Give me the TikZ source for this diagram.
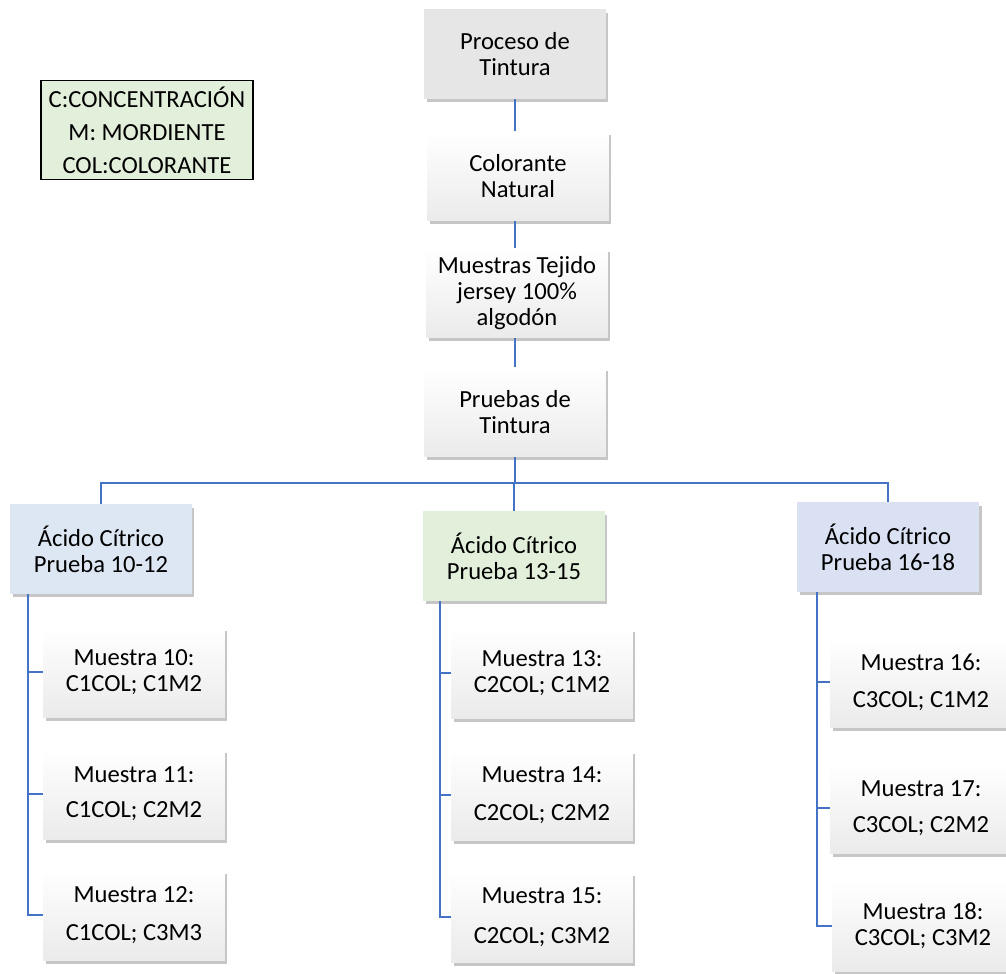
\documentclass[tikz,border=0pt]{standalone}
\usepackage{fontspec}
\setmainfont{Carlito}
\usepackage{tikz}
\usetikzlibrary{shadows,positioning}
\usepackage{xcolor}
\definecolor{lnblue}{HTML}{4472C4}
\definecolor{topgray}{HTML}{E7E6E6}
\definecolor{bluea}{HTML}{DDE7F3}
\definecolor{greena}{HTML}{E2EFDA}
\definecolor{bluec}{HTML}{D9E1F2}

\begin{document}
\begin{tikzpicture}[
  x=0.02cm, y=-0.02cm,
  font=\fontsize{14}{14.8}\selectfont,
  shd/.style={drop shadow={opacity=0.45, shadow xshift=0.5mm, shadow yshift=-0.7mm}},
  box/.style={shd, minimum width=3.64cm, minimum height=1.8cm, inner sep=1pt, align=center, top color=white, bottom color=gray!16},
  head/.style={box, top color=topgray, bottom color=topgray},
  acid/.style={shd, minimum width=3.64cm, minimum height=1.8cm, inner sep=1pt, align=center, fill=#1},
  leg/.style={draw=black, line width=0.9pt, fill=greena, minimum width=4.24cm, minimum height=1.98cm, inner sep=1pt, align=center},
  ln/.style={draw=lnblue, line width=1.1pt}
]
\useasboundingbox (0,0) rectangle (1006,973);
% legend
\node[leg] (key) at (147,130) {C:CONCENTRACIÓN\\[4pt]M: MORDIENTE\\[4pt]COL:COLORANTE};
% main column
\node[head] (proc) at (515,54) {Proceso de\\Tintura};
\node[box] (colo) at (518,176) {Colorante\\Natural};
\node[box] (tej) at (517,293) {Muestras Tejido\\jersey 100\%\\algodón};
\node[box] (prue) at (515,412) {Pruebas de\\Tintura};
\draw[ln] (proc.south) -- (proc.south |- colo.north);
\draw[ln] (proc.south |- colo.south) -- (proc.south |- tej.north);
\draw[ln] (proc.south |- tej.south) -- (prue.north);
% tests
\node[acid=bluea] (a1) at (101,549) {Ácido Cítrico\\Prueba 10-12};
\node[acid=greena] (a2) at (514,556) {Ácido Cítrico\\Prueba 13-15};
\node[acid=bluec] (a3) at (888,547) {Ácido Cítrico\\Prueba 16-18};
\coordinate (bus) at (515,483);
\draw[ln] (prue) -- (bus);
\draw[ln] (a1) |- (bus) -| (a3);
\draw[ln] (a2.north |- bus) -- (a2);
% samples
\foreach \n/\x/\y/\t in {
  s10/134/672/{Muestra 10:\\C1COL; C1M2},
  s11/134/794/{Muestra 11:\\[5pt]C1COL; C2M2},
  s12/134/915/{Muestra 12:\\[6.5pt]C1COL; C3M3},
  s13/542/673/{Muestra 13:\\C2COL; C1M2},
  s14/542/795/{Muestra 14:\\[6.5pt]C2COL; C2M2},
  s15/542/917/{Muestra 15:\\[8pt]C2COL; C3M2},
  s16/921/682/{Muestra 16:\\[6pt]C3COL; C1M2},
  s17/921/808/{Muestra 17:\\[6pt]C3COL; C2M2},
  s18/923/926/{Muestra 18:\\C3COL; C3M2}} {
  \node[box] (\n) at (\x,\y) {\t};
}
\coordinate (p1) at ([xshift=0.36cm]a1.south west);
\coordinate (p2) at ([xshift=0.34cm]a2.south west);
\coordinate (p3) at ([xshift=0.40cm]a3.south west);
\draw[ln] (p1) |- (s12.west);
\draw[ln] (s10.west) -- (s10.west -| p1);
\draw[ln] (s11.west) -- (s11.west -| p1);
\draw[ln] (p2) |- (s15.west);
\draw[ln] (s13.west) -- (s13.west -| p2);
\draw[ln] (s14.west) -- (s14.west -| p2);
\draw[ln] (p3) |- (s18.west);
\draw[ln] (s16.west) -- (s16.west -| p3);
\draw[ln] (s17.west) -- (s17.west -| p3);
\end{tikzpicture}
\end{document}
